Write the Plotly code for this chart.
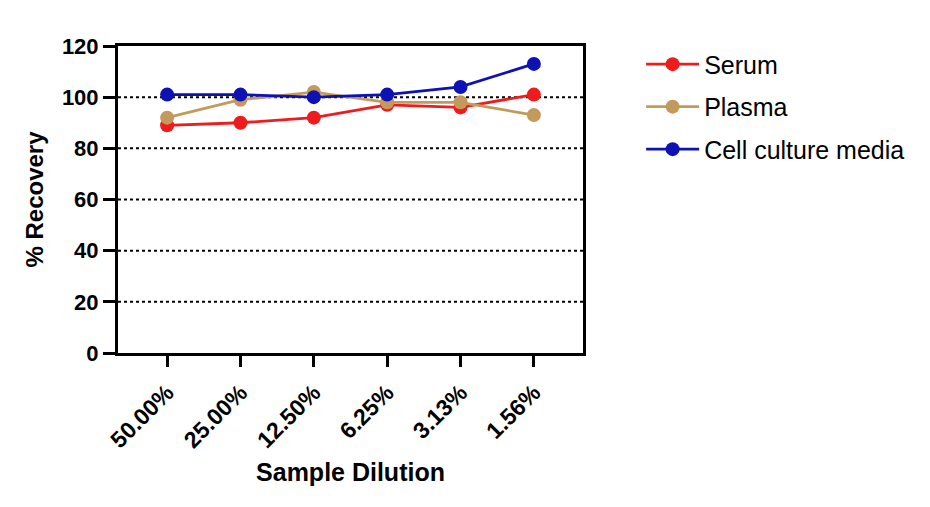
import plotly.graph_objects as go

dilutions = ["50.00%", "25.00%", "12.50%", "6.25%", "3.13%", "1.56%"]
serum = [89, 90, 92, 97, 96, 101]
plasma = [92, 99, 102, 98, 98, 93]
cell_media = [101, 101, 100, 101, 104, 113]

series = [
    ("Serum", serum, "#EE1C1C"),
    ("Plasma", plasma, "#C49A5C"),
    ("Cell culture media", cell_media, "#0E12B4"),
]

fig = go.Figure()
for name, vals, col in series:
    fig.add_trace(go.Scatter(
        x=list(range(len(dilutions))), y=vals, name=name, legendgroup=name,
        mode="lines+markers",
        line=dict(color=col, width=2.8),
        marker=dict(color=col, size=14),
    ))

font = "Liberation Sans, Arial, sans-serif"
fig.update_layout(
    width=930, height=507,
    margin=dict(l=110, r=355, t=38, b=162),
    plot_bgcolor="white", paper_bgcolor="white",
    font=dict(family=font, color="black"),
    showlegend=True,
    legend=dict(x=1.125, y=1.015, xanchor="left", yanchor="top",
                font=dict(size=25, family=font), tracegroupgap=7,
                itemwidth=53),
)
fig.update_xaxes(
    range=[-0.67, 5.67], tickmode="array",
    tickvals=list(range(len(dilutions))), ticktext=dilutions,
    tickangle=-45, tickfont=dict(size=23, family=font, weight="bold"),
    ticks="outside", ticklen=11, tickwidth=2.5, tickcolor="black",
    ticklabelstandoff=3,
    showline=True, linewidth=3, linecolor="black", mirror=True,
    showgrid=False, zeroline=False,
    title=dict(text="<b>Sample Dilution</b>", font=dict(size=25), standoff=12),
)
fig.update_yaxes(
    range=[0, 120], tickvals=[0, 20, 40, 60, 80, 100, 120],
    tickfont=dict(size=22, family=font, weight="bold"),
    ticks="outside", ticklen=12, tickwidth=2.5, tickcolor="black",
    showline=True, linewidth=3, linecolor="black", mirror=True,
    showgrid=False, zeroline=False,
    title=dict(text="<b>% Recovery</b>", font=dict(size=24), standoff=12),
)
# dotted reference gridlines
for v in [20, 40, 60, 80, 100]:
    fig.add_hline(y=v, line=dict(color="black", width=2, dash="dot"), layer="below")

fig.write_html("out.html")
